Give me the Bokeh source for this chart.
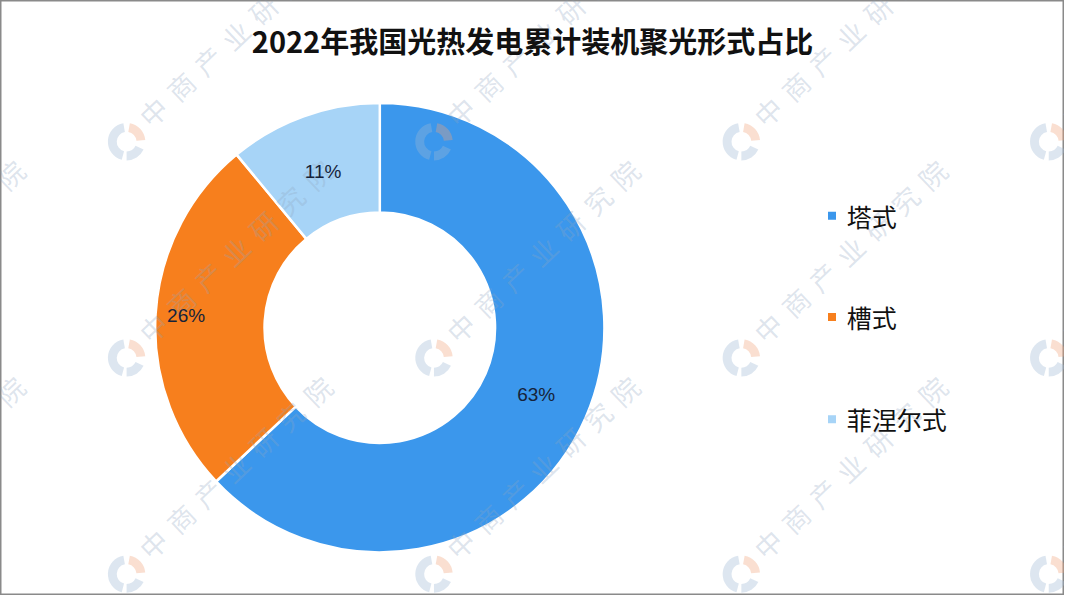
import numpy as np
from bokeh.plotting import figure
from bokeh.models import Range1d, ColumnDataSource
from bokeh.core.properties import value
from bokeh.embed import file_html
from bokeh.resources import INLINE

# ---- data ----
title = "2022年我国光热发电累计装机聚光形式占比"
categories = ["塔式", "槽式", "菲涅尔式"]
shares = [63, 26, 11]
share_labels = ["63%", "26%", "11%"]
colors = ["#3b97ec", "#f77f1d", "#a7d4f7"]
watermark = "中商产业研究院"

# ---- layout (data units = reference pixels) ----
W, H = 1064, 595
p = figure(width=W, height=H, x_range=Range1d(0, 1080), y_range=Range1d(-611, 0),
           output_backend="svg", toolbar_location=None,
           x_axis_type=None, y_axis_type=None, min_border=0)
p.grid.visible = False
p.outline_line_color = "#8a8a8a"
p.outline_line_width = 2
p.background_fill_color = "white"
p.border_fill_color = "white"

cx, cy = 385, -336
r_in, r_out = 117, 228
frac = np.array(shares, dtype=float) / sum(shares)
cum = np.concatenate([[0.0], np.cumsum(frac)])
start = np.pi / 2 - 2 * np.pi * cum[:-1]
end = np.pi / 2 - 2 * np.pi * cum[1:]
src = ColumnDataSource(dict(start=start, end=end, color=colors))
p.annular_wedge(x=cx, y=cy, inner_radius=r_in, outer_radius=r_out,
                start_angle="start", end_angle="end", direction="clock",
                fill_color="color", line_color="white", line_width=2.5, source=src)

# ---- watermarks ----
grid_x = [-184, 128, 440, 752, 1064]
grid_y = [-145, -367, -589]
wx, wy, wt = [], [], []
lgx, lgy = [], []
for gx in grid_x:
    for gy in grid_y:
        lgx.append(gx); lgy.append(gy)
        for k, ch in enumerate(watermark):
            wx.append(gx + 27 + 27.8 * k)
            wy.append(gy + 31 + 26.2 * k)
            wt.append(ch)
p.annular_wedge(x=lgx, y=lgy, inner_radius=10, outer_radius=19,
                start_angle=np.radians(100), end_angle=np.radians(255),
                fill_color="#9fb8d3", fill_alpha=0.35, line_color=None)
p.annular_wedge(x=lgx, y=lgy, inner_radius=10, outer_radius=19,
                start_angle=np.radians(5), end_angle=np.radians(80),
                fill_color="#f2a27a", fill_alpha=0.35, line_color=None)
p.annular_wedge(x=lgx, y=lgy, inner_radius=10, outer_radius=19,
                start_angle=np.radians(270), end_angle=np.radians(335),
                fill_color="#9fb8d3", fill_alpha=0.35, line_color=None)
p.text(x=wx, y=wy, text=wt, angle=0.76, text_font=value("Noto Sans CJK SC"),
       text_font_size="27px", text_color="#8fa6c0", text_alpha=0.3,
       text_align="center", text_baseline="middle")

# ---- slice labels ----
mid = (start + end) / 2
label_r = np.array([173, 197, 170])
lx = cx + label_r * np.cos(mid)
ly = cy + label_r * np.sin(mid)
p.text(x=lx, y=ly, text=share_labels, text_font=value("Liberation Sans"),
       text_font_size="19px", text_color="#16233a",
       text_align="center", text_baseline="middle")

# ---- legend ----
legend_y = [-221, -325, -430]
p.scatter(x=[844] * 3, y=legend_y, marker="square", size=8,
          fill_color=colors, line_color=None)
p.text(x=[859] * 3, y=legend_y, text=categories, text_font=value("Noto Sans CJK SC"),
       text_font_size="25px", text_color="#111111",
       text_align="left", text_baseline="middle")

# ---- title ----
p.text(x=[540], y=[-41], text=[title], text_font=value("Noto Sans CJK SC"),
       text_font_size="29px", text_font_style="bold", text_color="#111111",
       text_align="center", text_baseline="middle")

open("out.html", "w").write(file_html(p, INLINE))
